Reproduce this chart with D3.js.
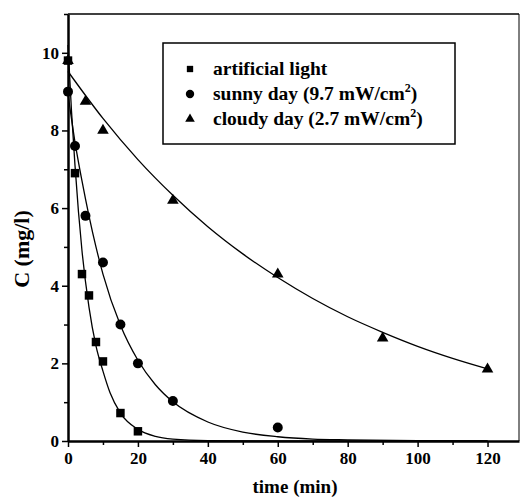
<!DOCTYPE html>
<html>
<head>
<meta charset="utf-8">
<script src="https://cdn.jsdelivr.net/npm/d3@7"></script>
<style>
    body { margin: 0; background: #fff; }
    svg text { font-family: "Liberation Serif", "Times New Roman", serif; font-weight: bold; fill: #000; }
</style>
</head>
<body>
<div id="canvas"></div>
<script>
"use strict"

let svgWidth = 520
let svgHeight = 498

let margin = { top: 14, right: 1, bottom: 57, left: 68 }

// measured points (time in min, C in mg/l)
let artificialTime = [0, 2, 4, 6, 8, 10, 15, 20]
let artificialConc = [9.8, 6.9, 4.3, 3.75, 2.55, 2.05, 0.72, 0.25]

let sunnyTime = [0, 2, 5, 10, 15, 20, 30, 60]
let sunnyConc = [9.0, 7.6, 5.8, 4.6, 3.0, 2.0, 1.03, 0.35]

let cloudyTime = [0, 5, 10, 30, 60, 90, 120]
let cloudyConc = [9.8, 8.75, 8.0, 6.2, 4.3, 2.65, 1.85]

// fitted decay curves
let artificialFitTime = [0, 1, 2, 3, 4, 6, 8, 10, 12, 15, 20, 25, 30, 40, 60, 120]
let artificialFitConc = [10.2, 8.5, 7.1, 5.9, 4.9, 3.45, 2.45, 1.8, 1.25, 0.72, 0.3, 0.12, 0.05, 0.01, 0, 0]

let sunnyFitTime = [0, 2, 4, 6, 8, 10, 15, 20, 25, 30, 40, 50, 60, 70, 80, 100, 120]
let sunnyFitConc = [8.94, 7.7, 6.7, 5.8, 5.0, 4.3, 2.98, 2.08, 1.45, 1.01, 0.49, 0.23, 0.11, 0.05, 0.03, 0.01, 0]

let cloudyFitTime = [0, 10, 20, 30, 40, 50, 60, 70, 80, 90, 100, 110, 120]
let cloudyFitConc = [9.52, 8.31, 7.25, 6.33, 5.52, 4.82, 4.21, 3.67, 3.2, 2.8, 2.44, 2.13, 1.86]

let seriesNames = ["artificial light", "sunny day (9.7 mW/cm", "cloudy day (2.7 mW/cm"]
let xTicks = [0, 20, 40, 60, 80, 100, 120]
let yTicks = [0, 2, 4, 6, 8, 10]

let svg = d3.select("#canvas")
    .append("svg")
    .attr("width", svgWidth)
    .attr("height", svgHeight)

let width = svgWidth - margin.left - margin.right
let height = svgHeight - margin.top - margin.bottom

let xScale = d3.scaleLinear().domain([0, 129]).range([0, width])
let yScale = d3.scaleLinear().domain([0, 11]).range([height, 0])

let chartGroup = svg.append("g")
    .attr("transform", `translate(${margin.left},${margin.top})`)

function zip(ts, cs) {
    return ts.map(function (t, i) { return { t: t, c: cs[i] } })
}

let series = [
    { points: zip(artificialTime, artificialConc), fit: zip(artificialFitTime, artificialFitConc), symbol: d3.symbolSquare, size: 72, legendSize: 40 },
    { points: zip(sunnyTime, sunnyConc), fit: zip(sunnyFitTime, sunnyFitConc), symbol: d3.symbolCircle, size: 78, legendSize: 55 },
    { points: zip(cloudyTime, cloudyConc), fit: zip(cloudyFitTime, cloudyFitConc), symbol: d3.symbolTriangle, size: 58, legendSize: 40 }
]

// frame: top and right thin lines
chartGroup.append("line")
    .attr("x1", 0).attr("x2", width).attr("y1", 0).attr("y2", 0)
    .attr("stroke", "#000").attr("stroke-width", 1.5)
chartGroup.append("line")
    .attr("x1", width).attr("x2", width).attr("y1", 0).attr("y2", height)
    .attr("stroke", "#000").attr("stroke-width", 1)

// minor ticks (no labels)
chartGroup.append("g")
    .attr("transform", `translate(0,${height})`)
    .call(d3.axisBottom(xScale).tickValues(d3.range(10, 129, 20)).tickSize(4).tickFormat(""))
    .call(g => g.select(".domain").remove())
chartGroup.append("g")
    .call(d3.axisLeft(yScale).tickValues(d3.range(1, 12, 2)).tickSize(4).tickFormat(""))
    .call(g => g.select(".domain").remove())

// major axes
let xAxisG = chartGroup.append("g")
    .attr("transform", `translate(0,${height})`)
    .call(d3.axisBottom(xScale).tickValues(xTicks).tickSize(6).tickSizeOuter(0).tickPadding(5))
let yAxisG = chartGroup.append("g")
    .call(d3.axisLeft(yScale).tickValues(yTicks).tickSize(6).tickSizeOuter(0).tickPadding(3))

chartGroup.selectAll(".tick line").attr("stroke-width", 1.5)
xAxisG.select(".domain").attr("stroke-width", 2.5)
yAxisG.select(".domain").attr("stroke-width", 2.5)
chartGroup.selectAll(".tick text")
    .style("font-family", "'Liberation Serif', serif")
    .style("font-weight", "bold")
    .style("font-size", "17px")

// fitted curves
let line = d3.line()
    .x(function (d) { return xScale(d.t) })
    .y(function (d) { return yScale(d.c) })
    .curve(d3.curveMonotoneX)

series.forEach(function (s) {
    chartGroup.append("path")
        .attr("d", line(s.fit))
        .attr("fill", "none")
        .attr("stroke", "#000")
        .attr("stroke-width", 1.3)
})

// markers
series.forEach(function (s) {
    chartGroup.selectAll(null)
        .data(s.points)
        .join("path")
        .attr("transform", function (d) { return `translate(${xScale(d.t)},${yScale(d.c)})` })
        .attr("d", d3.symbol(s.symbol, s.size))
        .attr("fill", "#000")
})

// legend
let legend = svg.append("g").attr("transform", "translate(163,43)")
legend.append("rect")
    .attr("width", 292).attr("height", 101)
    .attr("fill", "#fff").attr("stroke", "#000").attr("stroke-width", 1.5)

seriesNames.forEach(function (name, i) {
    let yPos = 26 + i * 25
    legend.append("path")
        .attr("transform", `translate(27,${yPos})`)
        .attr("d", d3.symbol(series[i].symbol, series[i].legendSize))
        .attr("fill", "#000")
    let txt = legend.append("text")
        .attr("x", 50)
        .attr("y", yPos + 6)
        .style("font-size", "19.5px")
        .text(name)
    if (i > 0) {
        txt.append("tspan").attr("dy", -8).style("font-size", "12px").text("2")
        txt.append("tspan").attr("dy", 8).text(")")
    }
})

// axis titles
svg.append("text")
    .attr("x", 295)
    .attr("y", 493)
    .attr("text-anchor", "middle")
    .style("font-size", "19px")
    .text("time (min)")

svg.append("text")
    .attr("transform", "translate(29,249) rotate(-90)")
    .attr("text-anchor", "middle")
    .style("font-size", "22px")
    .text("C (mg/l)")
</script>
</body>
</html>
